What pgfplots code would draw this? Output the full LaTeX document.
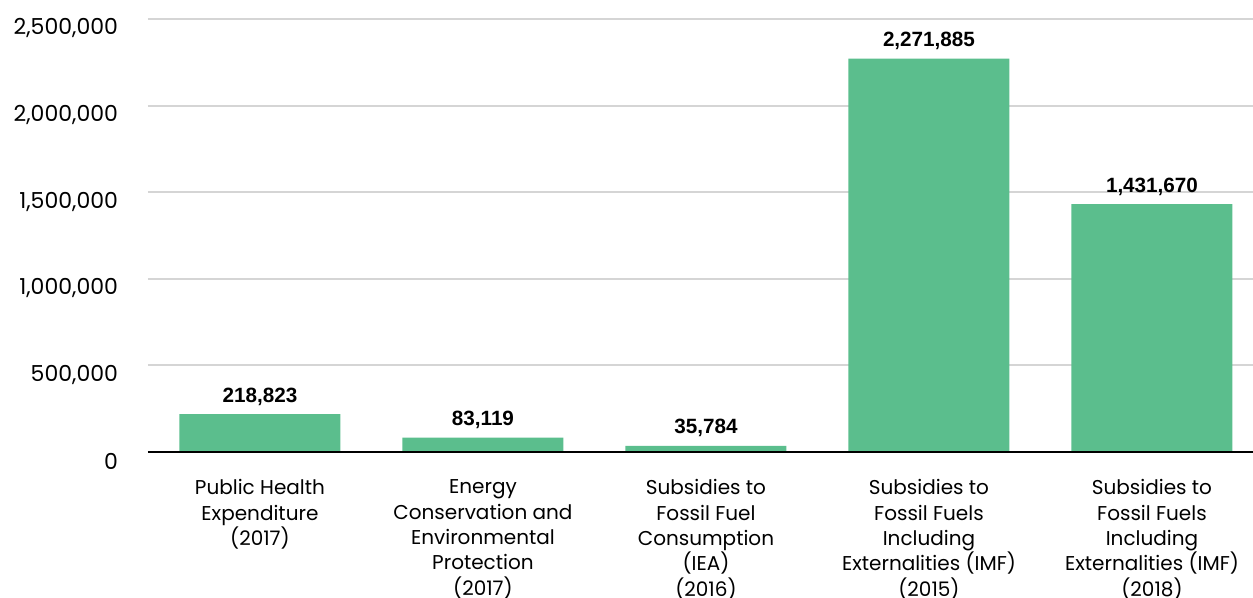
\documentclass[border=0pt]{standalone}
\usepackage{pgfplots}
\pgfplotsset{compat=1.18}
\usepackage{fontspec}
\setmainfont{Poppins}
\newfontfamily\valfont{Liberation Sans}
\definecolor{barg}{HTML}{5BBE8D}
\definecolor{gridg}{HTML}{D5D5D5}
\begin{document}
\begin{tikzpicture}
\begin{axis}[
  scale only axis,
  width=828.75pt, height=324.75pt,
  xmin=-0.502, xmax=4.453,
  ymin=0, ymax=2500000,
  scaled y ticks=false,
  axis line style={draw=none},
  tick style={draw=none},
  ymajorgrids,
  major grid style={gridg, line width=1.5pt},
  ytick={0,500000,1000000,1500000,2000000,2500000},
  yticklabels={0,{500,000},{1,000,000},{1,500,000},{2,000,000},{2,500,000}},
  yticklabel style={font=\fontsize{16.5}{19}\selectfont, anchor=east, xshift=-19pt, yshift=-7pt},
  xtick={0,1,2,3,4},
  xticklabels={{Public Health\\Expenditure\\(2017)},
    {Energy\\Conservation and\\Environmental\\Protection\\(2017)},
    {Subsidies to\\Fossil Fuel\\Consumption\\(IEA)\\(2016)},
    {Subsidies to\\Fossil Fuels\\Including\\Externalities (IMF)\\(2015)},
    {Subsidies to\\Fossil Fuels\\Including\\Externalities (IMF)\\(2018)}},
  xticklabel style={font=\fontsize{15}{19}\selectfont, align=center, anchor=north, yshift=-13pt},
  ybar, bar width=120.75pt,
  clip=false,
]
\addplot[fill=barg, draw=none, nodes near coords, point meta=explicit symbolic,
  nodes near coords style={font=\valfont\bfseries\fontsize{15.5}{18}\selectfont, anchor=base, yshift=9pt}]
  table[meta=lab] {
x y lab
0 218823 218,823
1 83119 83,119
2 35784 35,784
3 2271885 2,271,885
4 1431670 1,431,670
};
\draw[black, line width=1.9pt] (rel axis cs:0,0) -- (rel axis cs:1,0);
\coordinate (bl) at (rel axis cs:0,0);
\coordinate (tr) at (rel axis cs:1,1);
\end{axis}
\pgfresetboundingbox
\path[use as bounding box] ([shift={(-111pt,-108.75pt)}]bl) rectangle ([shift={(0pt,14.25pt)}]tr);
\end{tikzpicture}
\end{document}
